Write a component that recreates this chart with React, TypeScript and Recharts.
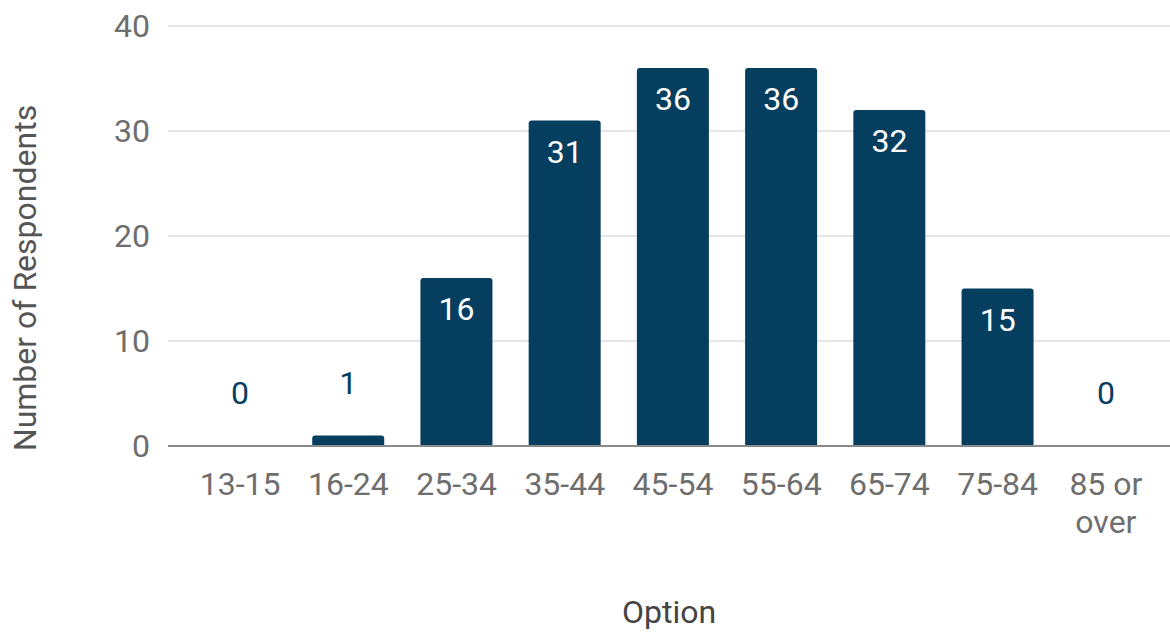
import { ComposedChart, Bar, Line, XAxis, YAxis, CartesianGrid, LabelList } from 'recharts';

const categories = ['13-15', '16-24', '25-34', '35-44', '45-54', '55-64', '65-74', '75-84', '85 or over'];
const respondents = [0, 1, 16, 31, 36, 36, 32, 15, 0];
const yTicks = [0, 10, 20, 30, 40];

const data = categories.map((name, i) => ({ name, value: respondents[i] }));

const NAVY = '#053e5e';
const FONT = 'Roboto, "Noto Sans", sans-serif';

function wrap(label: string, maxChars: number) {
    const lines: string[] = [];
    let cur = '';
    label.split(' ').forEach((w) => {
        const next = cur ? cur + ' ' + w : w;
        if (next.length > maxChars && cur) {
            lines.push(cur);
            cur = w;
        } else {
            cur = next;
        }
    });
    if (cur) lines.push(cur);
    return lines;
}

function CategoryTick(props: any) {
    const { x, y, payload } = props;
    const lines = wrap(String(payload.value), 6);
    return (
        <text x={x} y={y} textAnchor="middle" fill="#6e6e6e" fontSize={32} fontFamily={FONT}>
            {lines.map((l, i) => (
                <tspan key={i} x={x} dy={i === 0 ? '0.71em' : 38}>
                    {l}
                </tspan>
            ))}
        </text>
    );
}

// labels sit on an invisible line series so zero-height bars still get one
function ValueLabel(props: any) {
    const { x, y, value } = props;
    const inside = value >= 5;
    return (
        <text
            x={x}
            y={inside ? y + 42 : y - 42}
            textAnchor="middle"
            fill={inside ? '#ffffff' : NAVY}
            fontSize={32}
            fontFamily={FONT}
        >
            {value}
        </text>
    );
}

export default function App() {
    return (
        <div style={{ position: 'absolute', left: 0, top: 0, background: '#fff' }}>
            <ComposedChart
                width={1170}
                height={632}
                data={data}
                margin={{ top: 26, right: 0, left: 0, bottom: 0 }}
            >
                <CartesianGrid vertical={false} stroke="#dcdcdc" strokeWidth={1.5} />
                <XAxis
                    dataKey="name"
                    height={186}
                    interval={0}
                    padding={{ left: 18, right: 10 }}
                    tickLine={false}
                    axisLine={{ stroke: '#8a8a8a', strokeWidth: 2 }}
                    tickMargin={20}
                    tick={<CategoryTick />}
                    label={{
                        content: ({ viewBox }: any) => (
                            <text
                                x={viewBox.x + viewBox.width / 2}
                                y={viewBox.y + viewBox.height - 9}
                                textAnchor="middle"
                                fill="#444"
                                fontSize={32}
                                fontFamily={FONT}
                            >
                                Option
                            </text>
                        ),
                    }}
                />
                <YAxis
                    width={168}
                    domain={[0, 40]}
                    ticks={yTicks}
                    axisLine={false}
                    tickLine={false}
                    tickMargin={12}
                    tick={{ fill: '#6e6e6e', fontSize: 32, fontFamily: FONT }}
                    label={{
                        content: ({ viewBox }: any) => {
                            const cx = viewBox.x + 36;
                            const cy = viewBox.y + viewBox.height / 2 + 42;
                            return (
                                <text
                                    x={cx}
                                    y={cy}
                                    transform={`rotate(-90 ${cx} ${cy})`}
                                    textAnchor="middle"
                                    fill="#555"
                                    fontSize={32}
                                    fontFamily={FONT}
                                >
                                    Number of Respondents
                                </text>
                            );
                        },
                    }}
                />
                <Bar dataKey="value" fill={NAVY} barSize={72} radius={[3, 3, 0, 0]} isAnimationActive={false} />
                <Line
                    dataKey="value"
                    stroke="none"
                    dot={false}
                    activeDot={false}
                    isAnimationActive={false}
                >
                    <LabelList dataKey="value" content={<ValueLabel />} />
                </Line>
            </ComposedChart>
        </div>
    );
}
